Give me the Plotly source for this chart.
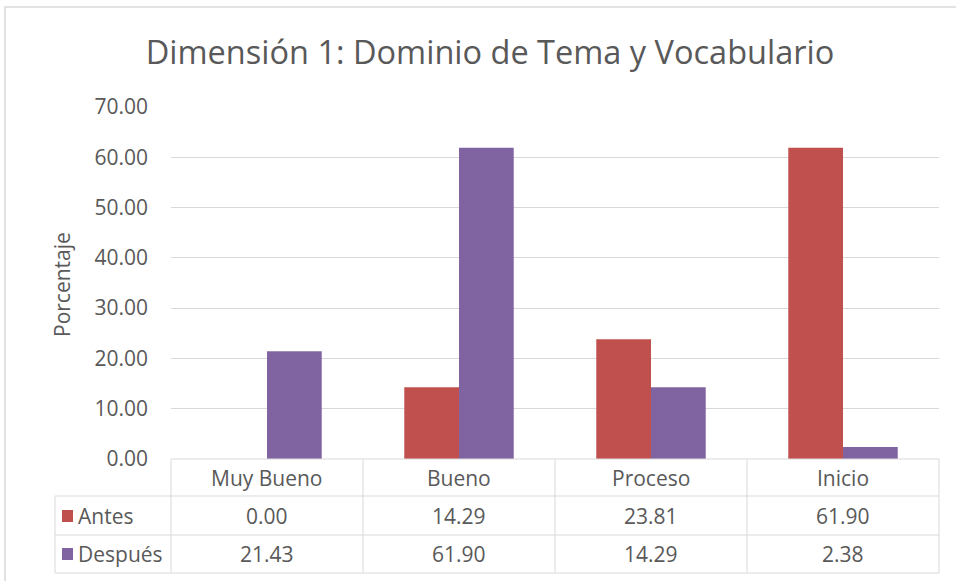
import plotly.graph_objects as go

# data
categories = ["Muy Bueno", "Bueno", "Proceso", "Inicio"]
series_names = ["Antes", "Después"]
antes = [0.00, 14.29, 23.81, 61.90]
despues = [21.43, 61.90, 14.29, 2.38]
y_ticks = [0, 10, 20, 30, 40, 50, 60, 70]

colors = {"Antes": "#C0504D", "Después": "#8064A2"}
grey_txt = "#595959"
grid = "#D9D9D9"
font_name = "Open Sans"
fs = 21

W, H = 956, 581
L, R, T, B = 171, 17, 107, 122
plot_w = W - L - R
plot_h = H - T - B


def px_x(px):
    return (px - L) / plot_w


def px_y(py):
    return (H - B - py) / plot_h


fig = go.Figure()
for name, vals in zip(series_names, [antes, despues]):
    fig.add_trace(go.Bar(
        x=categories, y=vals, name=name,
        marker=dict(color=colors[name], line=dict(width=0)),
        showlegend=False,
    ))

shapes = []
annotations = []

# outer chart frame
shapes.append(dict(type="rect", xref="paper", yref="paper",
                   x0=px_x(5), x1=px_x(960), y0=px_y(590), y1=px_y(7),
                   line=dict(color=grid, width=1.5), layer="below"))

# data table lines
row_lines = [459, 496, 535, 573]
for i, py in enumerate(row_lines):
    x0 = px_x(171) if i == 0 else px_x(55)
    shapes.append(dict(type="line", xref="paper", yref="paper",
                       x0=x0, x1=1, y0=px_y(py), y1=px_y(py),
                       line=dict(color=grid, width=1)))
for k in range(len(categories) + 1):
    xp = k / len(categories)
    shapes.append(dict(type="line", xref="paper", yref="paper",
                       x0=xp, x1=xp, y0=px_y(459), y1=px_y(573),
                       line=dict(color=grid, width=1)))
shapes.append(dict(type="line", xref="paper", yref="paper",
                   x0=px_x(55), x1=px_x(55), y0=px_y(496), y1=px_y(573),
                   line=dict(color=grid, width=1)))

cell_font = dict(size=fs, color=grey_txt, family=font_name)

# header row: category names
for c in categories:
    annotations.append(dict(x=c, y=px_y(478), xref="x", yref="paper",
                            xanchor="center", yanchor="middle",
                            text=c, showarrow=False, font=cell_font))

# value rows with legend keys
row_centers = [516, 554]
for name, vals, yc in zip(series_names, [antes, despues], row_centers):
    shapes.append(dict(type="rect", xref="paper", yref="paper",
                       x0=px_x(62), x1=px_x(73), y0=px_y(yc + 6), y1=px_y(yc - 6),
                       fillcolor=colors[name], line=dict(width=0)))
    annotations.append(dict(x=px_x(76), y=px_y(yc), xref="paper", yref="paper",
                            text=name, showarrow=False,
                            xanchor="left", yanchor="middle", font=cell_font))
    for c, v in zip(categories, vals):
        annotations.append(dict(x=c, y=px_y(yc), xref="x", yref="paper",
                                xanchor="center", yanchor="middle",
                                text=f"{v:.2f}", showarrow=False, font=cell_font))

# y axis title
annotations.append(dict(x=px_x(62), y=px_y(285), xref="paper", yref="paper",
                        xanchor="center", yanchor="middle",
                        text="Porcentaje", textangle=-90, showarrow=False,
                        font=cell_font))

fig.update_layout(
    width=W, height=H,
    margin=dict(l=L, r=R, t=T, b=B),
    paper_bgcolor="white", plot_bgcolor="white",
    barmode="group", bargap=0.43, bargroupgap=0,
    title=dict(text="Dimensión 1: Dominio de Tema y Vocabulario",
               xref="container", x=490 / W, xanchor="center",
               yref="container", y=1 - 53 / H, yanchor="middle",
               font=dict(size=32.5, color=grey_txt, family=font_name)),
    font=dict(family=font_name, color=grey_txt),
    shapes=shapes,
    annotations=annotations,
)
fig.update_xaxes(showticklabels=False, showgrid=False, showline=False,
                 zeroline=False, ticks="")
fig.update_yaxes(range=[0, 70], tickvals=y_ticks, tickformat=".2f",
                 showgrid=True, gridcolor=grid, gridwidth=1,
                 zeroline=False, showline=False, ticks="",
                 ticklabelstandoff=22,
                 tickfont=dict(size=fs, color=grey_txt, family=font_name))

fig.write_html("out.html", config={"displayModeBar": False},
               post_script="document.body.style.margin='0';")
